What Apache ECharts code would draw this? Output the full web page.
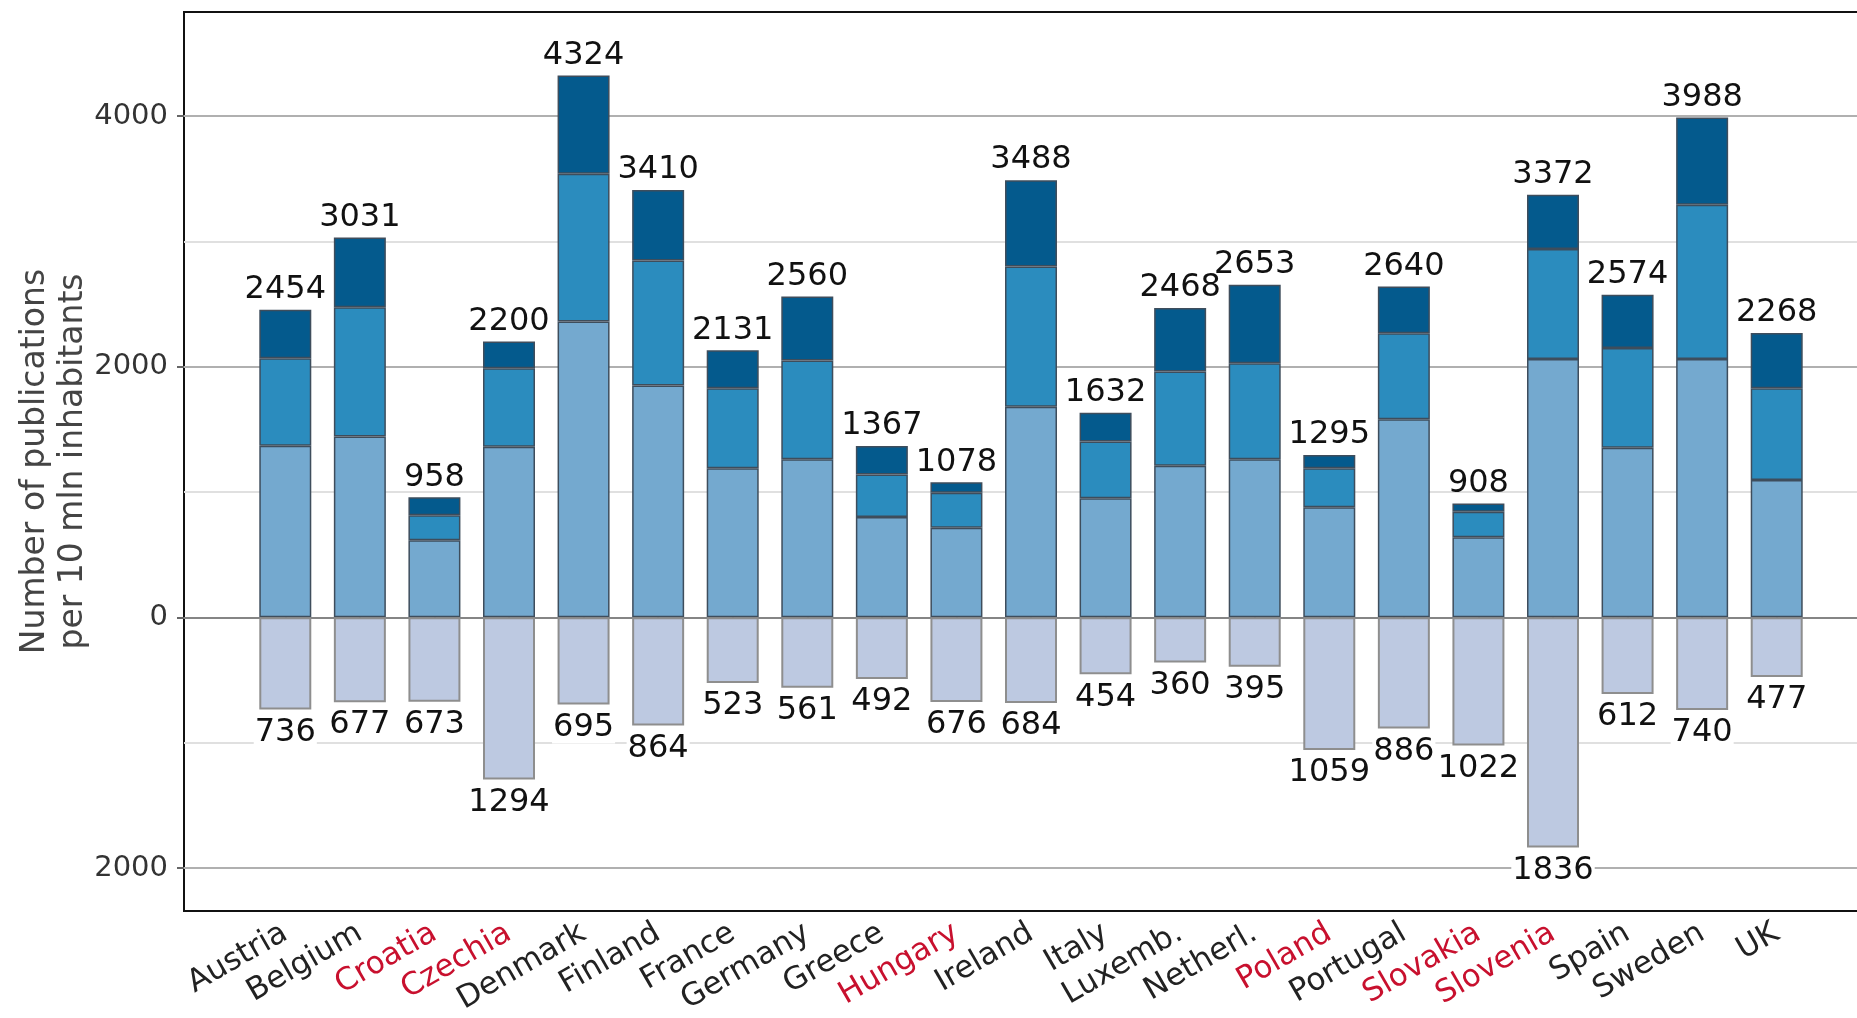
<!DOCTYPE html>
<html>
<head>
<meta charset="utf-8">
<script src="https://cdn.jsdelivr.net/npm/echarts@6/dist/echarts.min.js"></script>
<style>
html,body{margin:0;padding:0;background:#fff;}
#chart{width:1857px;height:1018px;}
</style>
</head>
<body>
<div id="chart"></div>
<script>
// ---- data ----
const countries = ['Austria','Belgium','Croatia','Czechia','Denmark','Finland','France','Germany','Greece','Hungary','Ireland','Italy','Luxemb.','Netherl.','Poland','Portugal','Slovakia','Slovenia','Spain','Sweden','UK'];
const redCountries = ['Croatia','Czechia','Hungary','Poland','Slovakia','Slovenia'];
const lightPart  = [1370,1442,615,1362,2360,1849,1190,1261,800,715,1681,950,1210,1261,878,1581,639,2062,1354,2062,1096];
const mediumPart = [698,1033,200,626,1179,998,638,788,340,280,1118,452,751,767,312,686,204,876,794,1230,732];
const darkPart   = [386,556,143,212,785,563,303,511,227,83,689,230,507,625,105,373,65,434,426,696,440];
const totals     = [2454,3031,958,2200,4324,3410,2131,2560,1367,1078,3488,1632,2468,2653,1295,2640,908,3372,2574,3988,2268];
const negative   = [736,677,673,1294,695,864,523,561,492,676,684,454,360,395,1059,886,1022,1836,612,740,477];
const yTicks = {min: -2000, max: 4000, interval: 2000};

const chart = echarts.init(document.getElementById('chart'), null, {renderer: 'canvas'});
const FONT = 'DejaVu Sans';
const posBorder = {borderColor: '#3e4d5c', borderWidth: 1.5};

const option = {
  backgroundColor: '#fff',
  animation: false,
  textStyle: {fontFamily: FONT},
  grid: [
    {left: 184, right: -10, top: 12, bottom: 107, show: true, borderColor: '#111', borderWidth: 2, backgroundColor: 'transparent', outerBoundsMode: 'none', containLabel: false},
    {left: 184, right: -10, top: 116, bottom: 150, outerBoundsMode: 'none', containLabel: false},
    {left: 248, right: 43, top: 116, bottom: 150, outerBoundsMode: 'none', containLabel: false}
  ],
  xAxis: [
    {gridIndex: 0, type: 'value', min: 0, max: 1, show: false},
    {gridIndex: 1, type: 'value', min: 0, max: 1, show: false},
    {gridIndex: 2, type: 'category', data: countries, offset: 43,
     axisLine: {show: false},
     axisTick: {show: true, alignWithLabel: true, length: 7, lineStyle: {color: '#666', width: 2}},
     axisLabel: {interval: 0, rotate: 30, margin: 20, fontSize: 31, fontFamily: FONT, color: '#222',
       formatter: v => redCountries.includes(v) ? '{r|' + v + '}' : '{k|' + v + '}',
       rich: {r: {color: '#c8102e', fontSize: 31, fontFamily: FONT}, k: {color: '#222', fontSize: 31, fontFamily: FONT}}
     }}
  ],
  yAxis: [
    {gridIndex: 0, type: 'value', min: 0, max: 1,
     axisLine: {show: false}, axisTick: {show: false}, axisLabel: {show: false}, splitLine: {show: false},
     name: 'Number of publications\nper 10 mln inhabitants', nameLocation: 'middle', nameRotate: 90, nameGap: 92,
     nameTextStyle: {fontSize: 33, fontFamily: FONT, color: '#444', lineHeight: 38, align: 'center'}},
    {gridIndex: 1, type: 'value', min: yTicks.min, max: yTicks.max, interval: yTicks.interval,
     axisLine: {show: false},
     axisTick: {show: true, length: 7, lineStyle: {color: '#666', width: 2}},
     axisLabel: {formatter: v => String(Math.abs(v)), fontSize: 29, fontFamily: FONT, color: '#333', margin: 16},
     splitLine: {show: true, lineStyle: {color: ['#b0b0b0', '#858585', '#b0b0b0', '#b0b0b0'], width: 2}},
     minorTick: {show: false, splitNumber: 2},
     minorSplitLine: {show: true, lineStyle: {color: '#e0e0e0', width: 2}}},
    {gridIndex: 2, type: 'value', min: yTicks.min, max: yTicks.max, show: false}
  ],
  series: [
    {type: 'bar', name: 'light', xAxisIndex: 2, yAxisIndex: 2, stack: 'a', barWidth: 52, clip: false,
     data: lightPart, itemStyle: Object.assign({color: '#74a9cf'}, posBorder)},
    {type: 'bar', name: 'medium', xAxisIndex: 2, yAxisIndex: 2, stack: 'a', barWidth: 52, clip: false,
     data: mediumPart, itemStyle: Object.assign({color: '#2b8cbe'}, posBorder)},
    {type: 'bar', name: 'dark', xAxisIndex: 2, yAxisIndex: 2, stack: 'a', barWidth: 52, clip: false,
     data: darkPart, itemStyle: Object.assign({color: '#045a8d'}, posBorder),
     label: {show: true, position: 'top', distance: 4, fontSize: 32, fontFamily: FONT, color: '#111',
       formatter: p => String(totals[p.dataIndex])}},
    {type: 'bar', name: 'negative', xAxisIndex: 2, yAxisIndex: 2, stack: 'a', barWidth: 52, clip: false,
     data: negative.map(v => -v), itemStyle: {color: '#bdc9e1', borderColor: '#8e8e8e', borderWidth: 2},
     label: {show: true, position: 'bottom', distance: 7, fontSize: 32, fontFamily: FONT, color: '#111',
       backgroundColor: '#fff', padding: [0, 1, 0, 1],
       formatter: p => String(negative[p.dataIndex])}}
  ]
};
chart.setOption(option);
</script>
</body>
</html>
